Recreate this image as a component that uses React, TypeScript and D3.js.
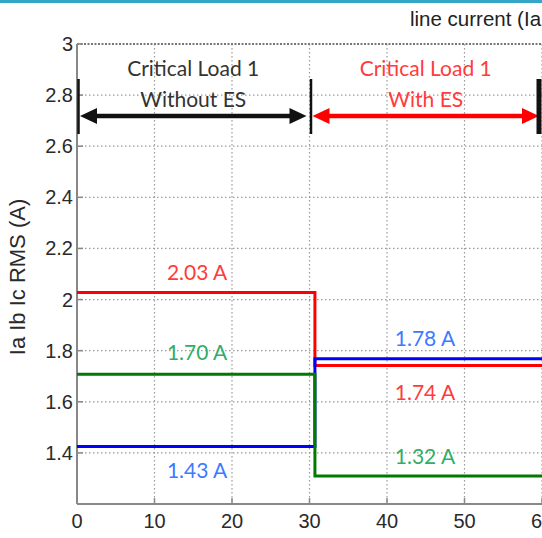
import React from "react";
import * as d3 from "d3";

const W = 542;
const H = 538;

const xTicks = [0, 10, 20, 30, 40, 50, 60];
const yTicks = [1.4, 1.6, 1.8, 2, 2.2, 2.4, 2.6, 2.8, 3];
const yGrid = [1.4, 1.6, 1.8, 2, 2.2, 2.4, 2.6, 2.8];

const timePoints = [0, 30.7, 30.7, 60];
const iaValues = [2.028, 2.028, 1.742, 1.742];
const ibValues = [1.425, 1.425, 1.768, 1.768];
const icValues = [1.708, 1.708, 1.31, 1.31];

const seriesNames = ["Ia", "Ib", "Ic"];
const seriesColors = ["#ff0000", "#0000ff", "#007a00"];

const valueLabels = ["2.03 A", "1.70 A", "1.43 A", "1.78 A", "1.74 A", "1.32 A"];
const valueLabelX = [15.5, 15.5, 15.5, 44.9, 44.9, 44.9];
const valueLabelY = [2.104, 1.791, 1.329, 1.848, 1.634, 1.384];
const valueLabelColors = ["#ff3b3b", "#2fae6a", "#3a7bff", "#3a7bff", "#ff3b3b", "#2fae6a"];

const periodTitles = ["Critical Load 1", "Critical Load 1"];
const periodSubtitles = ["Without ES", "With ES"];
const periodStart = [0, 30];
const periodEnd = [30, 60];
const periodColors = ["#111111", "#ff0000"];

export default function App() {
  const left = 77;
  const right = 542;
  const top = 44;
  const bottom = 504;
  const x = d3.scaleLinear().domain([0, 60]).range([left, right]);
  const y = d3.scaleLinear().domain([1.2, 3]).range([bottom, top]);

  const seriesValues = [iaValues, ibValues, icValues];
  const line = d3
    .line<number>()
    .x((_, i) => x(timePoints[i]))
    .y((d) => y(d));

  const tickFont = "'Liberation Sans', Arial, sans-serif";
  const annoFont = "Lato, 'Open Sans', sans-serif";

  const arrowY = 116;
  const barTop = 79;
  const barBottom = 134;
  const headLen = 17;
  const headHalf = 8;

  return (
    <svg
      width={W}
      height={H}
      style={{ position: "absolute", left: 0, top: 0, background: "#fff" }}
    >
      <rect x={0} y={0} width={W} height={H} fill="#ffffff" />
      <line x1={0} x2={W} y1={1.5} y2={1.5} stroke="#35a6c8" strokeWidth={3} />
      <text x={410} y={26} fontFamily={tickFont} fontSize={20.5} fill="#222">
        line current (Ia, Ib, Ic)
      </text>

      {/* grid */}
      {xTicks.slice(1).map((t) => (
        <line
          key={"gx" + t}
          x1={x(t)}
          x2={x(t)}
          y1={top}
          y2={bottom}
          stroke="#9a9a9a"
          strokeWidth={1.2}
          strokeDasharray="1.5,2.5"
        />
      ))}
      {yGrid.map((t) => (
        <line
          key={"gy" + t}
          x1={left}
          x2={right}
          y1={y(t)}
          y2={y(t)}
          stroke="#9a9a9a"
          strokeWidth={1.2}
          strokeDasharray="1.5,2.5"
        />
      ))}
      <line
        x1={left}
        x2={right}
        y1={top}
        y2={top}
        stroke="#777"
        strokeWidth={2}
        strokeDasharray="2,1.5"
      />

      {/* axes */}
      <line x1={left} x2={left} y1={top} y2={bottom} stroke="#888" strokeWidth={2} />
      <line x1={left} x2={right} y1={bottom} y2={bottom} stroke="#888" strokeWidth={2} />
      {xTicks.map((t) => (
        <line key={"tx" + t} x1={x(t)} x2={x(t)} y1={bottom} y2={bottom - 6} stroke="#888" strokeWidth={1.5} />
      ))}
      {yTicks.map((t) => (
        <line key={"ty" + t} x1={left} x2={left + 6} y1={y(t)} y2={y(t)} stroke="#888" strokeWidth={1.5} />
      ))}
      {xTicks.map((t) => (
        <text
          key={"lx" + t}
          x={x(t)}
          y={528}
          textAnchor="middle"
          fontFamily={tickFont}
          fontSize={20}
          fill="#2a2a2a"
        >
          {t}
        </text>
      ))}
      {yTicks.map((t) => (
        <text
          key={"ly" + t}
          x={73}
          y={y(t)}
          dy="0.35em"
          textAnchor="end"
          fontFamily={tickFont}
          fontSize={20}
          fill="#2a2a2a"
        >
          {d3.format("~g")(t)}
        </text>
      ))}
      <text
        transform={`translate(25,277) rotate(-90)`}
        textAnchor="middle"
        fontFamily={tickFont}
        fontSize={22}
        fill="#2a2a2a"
      >
        Ia Ib Ic RMS (A)
      </text>

      {/* series */}
      {seriesValues.map((vals, i) => (
        <path
          key={seriesNames[i]}
          d={line(vals) || ""}
          fill="none"
          stroke={seriesColors[i]}
          strokeWidth={3}
        />
      ))}

      {/* period arrows */}
      {periodStart.map((s, i) => {
        const x0 = x(s) + 3;
        const x1 = x(periodEnd[i]) - 3;
        const c = periodColors[i];
        return (
          <g key={"p" + i}>
            <line x1={x0 + headLen - 2} x2={x1 - headLen + 2} y1={arrowY} y2={arrowY} stroke={c} strokeWidth={4.5} />
            <path
              d={`M${x0},${arrowY} L${x0 + headLen},${arrowY - headHalf} L${x0 + headLen},${arrowY + headHalf} Z`}
              fill={c}
            />
            <path
              d={`M${x1},${arrowY} L${x1 - headLen},${arrowY - headHalf} L${x1 - headLen},${arrowY + headHalf} Z`}
              fill={c}
            />
            <text
              x={(x(s) + x(periodEnd[i])) / 2}
              y={76}
              textAnchor="middle"
              fontFamily={annoFont}
              fontSize={21}
              fill={i === 0 ? "#333" : "#ff3b3b"}
            >
              {periodTitles[i]}
            </text>
            <text
              x={(x(s) + x(periodEnd[i])) / 2}
              y={107}
              textAnchor="middle"
              fontFamily={annoFont}
              fontSize={21}
              fill={i === 0 ? "#333" : "#ff3b3b"}
            >
              {periodSubtitles[i]}
            </text>
          </g>
        );
      })}
      {[0, 30, 60].map((t) => (
        <line
          key={"bar" + t}
          x1={t === 60 ? x(t) - 3 : x(t) + 1.5}
          x2={t === 60 ? x(t) - 3 : x(t) + 1.5}
          y1={barTop}
          y2={barBottom}
          stroke="#111"
          strokeWidth={t === 60 ? 5 : 2.5}
        />
      ))}

      {/* value labels */}
      {valueLabels.map((lbl, i) => (
        <text
          key={"v" + i}
          x={x(valueLabelX[i])}
          y={y(valueLabelY[i])}
          dy="0.35em"
          textAnchor="middle"
          fontFamily={annoFont}
          fontSize={21}
          fill={valueLabelColors[i]}
        >
          {lbl}
        </text>
      ))}
    </svg>
  );
}
